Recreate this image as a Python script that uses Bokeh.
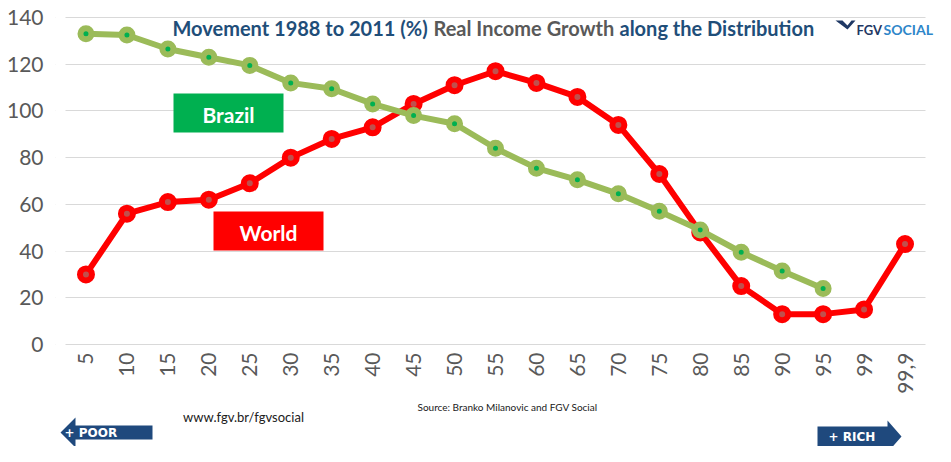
import math
from bokeh.plotting import figure
from bokeh.models import FactorRange, Range1d, FixedTicker, Label, BoxAnnotation, PolyAnnotation, ColumnDataSource
from bokeh.core.properties import value
from bokeh.embed import file_html
from bokeh.resources import INLINE

# ---------------- data ----------------
percentiles = ["5", "10", "15", "20", "25", "30", "35", "40", "45", "50", "55",
               "60", "65", "70", "75", "80", "85", "90", "95", "99", "99,9"]
world = [30, 56, 61, 62, 69, 80, 88, 93, 103, 111, 117, 112, 106, 94, 73, 48,
         25, 13, 13, 15, 43]
brazil_pct = percentiles[:19]
brazil = [133, 132.5, 126.5, 123, 119.5, 112, 109.5, 103, 98, 94.5, 84, 75.5,
          70.5, 64.5, 57, 49, 39.5, 31.5, 24]
y_ticks = [0, 20, 40, 60, 80, 100, 120, 140]

title_parts = ["Movement 1988 to 2011 (%)", "Real Income Growth", "along the Distribution"]

# ---------------- layout constants (figure pixels) ----------------
FONT = "Lato"
W, H = 935, 446
PLOT_L, PLOT_R = 65, 925        # span of the categories
PLOT_T, PLOT_B = 17, 344        # where 140 and 0 sit
PAD = 10                        # extra frame on both sides of the categories
YMAX = 140
CW = (PLOT_R - PLOT_L) / len(percentiles)
K = (PLOT_B - PLOT_T) / YMAX
BLUE = "#1F4E79"
GRAY = "#595959"
ARROW = "#1F497D"


def ux(px):
    return (px - PLOT_L) / CW


def vy(py):
    return (PLOT_B - py) / K


p = figure(x_range=FactorRange(*percentiles, range_padding=PAD / CW,
                               range_padding_units="absolute"),
           y_range=Range1d(-(H - PLOT_B) / K, YMAX + PLOT_T / K),
           frame_width=PLOT_R - PLOT_L + 2 * PAD, frame_height=H,
           min_border_left=PLOT_L - PAD, min_border_top=0,
           min_border_right=W - PLOT_R - PAD, min_border_bottom=0,
           x_axis_location=None, output_backend="svg", toolbar_location=None)
p.outline_line_color = None
p.background_fill_color = "white"
p.border_fill_color = "white"

p.xgrid.visible = False
p.ygrid.grid_line_color = "#D9D9D9"
p.ygrid.grid_line_width = 1

p.yaxis.ticker = FixedTicker(ticks=y_ticks)
p.yaxis.axis_line_color = None
p.yaxis.major_tick_line_color = None
p.yaxis.minor_tick_line_color = None
p.yaxis.major_tick_out = 0
p.yaxis.major_tick_in = 0
p.yaxis.major_label_text_font = FONT
p.yaxis.major_label_text_font_size = "21px"
p.yaxis.major_label_text_color = GRAY
p.yaxis.major_label_standoff = 12

# hide grid ends that fall outside the category span
p.add_layout(BoxAnnotation(right=ux(PLOT_L), bottom=vy(352), fill_color="white",
                           fill_alpha=1, line_color=None))
p.add_layout(BoxAnnotation(left=ux(PLOT_R), bottom=vy(352), fill_color="white",
                           fill_alpha=1, line_color=None))

# category labels under the zero line
p.text(x=percentiles, y=[vy(352)] * len(percentiles), text=percentiles, angle=math.pi / 2,
       text_align="right", text_baseline="middle", text_font=value(FONT),
       text_font_size=value("21px"), text_color=GRAY)

src_w = ColumnDataSource(dict(pct=percentiles, val=world))
src_b = ColumnDataSource(dict(pct=brazil_pct, val=brazil))

p.line("pct", "val", source=src_w, line_color="#FF0000", line_width=6, line_join="round")
p.scatter("pct", "val", source=src_w, size=12, fill_color="#C0504D",
          line_color="#FF0000", line_width=6)
p.line("pct", "val", source=src_b, line_color="#9BBB59", line_width=6, line_join="round")
p.scatter("pct", "val", source=src_b, size=11, fill_color="#00B050",
          line_color="#9BBB59", line_width=6)

# series tag boxes
for (x0, x1, y0, y1, col, txt) in [(173, 283, 93, 132, "#00B050", "Brazil"),
                                   (213, 323, 211, 250, "#FF0000", "World")]:
    p.add_layout(BoxAnnotation(left=ux(x0), right=ux(x1), top=vy(y0), bottom=vy(y1),
                               fill_color=col, fill_alpha=1, line_color=None))
    p.add_layout(Label(x=ux((x0 + x1) / 2), y=vy((y0 + y1) / 2 + 1), text=txt,
                       text_align="center", text_baseline="middle",
                       text_font=FONT, text_font_size="21px", text_font_style="bold",
                       text_color="white"))

# title
for txt, x0, col in zip(title_parts, [172, 433, 619], [BLUE, GRAY, BLUE]):
    p.add_layout(Label(x=ux(x0), y=vy(27), text=txt, text_align="left",
                       text_baseline="alphabetic", text_font=FONT,
                       text_font_size="20px", text_font_style="bold", text_color=col))

# logo
logo_x = [835, 842, 847, 851, 855, 847]
logo_y = [20, 20, 25, 20, 20, 29]
p.add_layout(PolyAnnotation(xs=[ux(v) for v in logo_x], ys=[vy(v) for v in logo_y],
                            fill_color="#1F3864", fill_alpha=1, line_color=None))
p.add_layout(Label(x=ux(856), y=vy(29), text="FGV", text_align="left",
                   text_baseline="alphabetic", text_font=FONT, text_font_size="13px",
                   text_font_style="bold", text_color="#1F3864"))
p.add_layout(Label(x=ux(883), y=vy(29), text="SOCIAL", text_align="left",
                   text_baseline="alphabetic", text_font=FONT, text_font_size="14px",
                   text_font_style="bold", text_color="#2E86C9"))

# ---------------- below the chart ----------------
left_arrow = [(60, 432), (75, 417), (75, 425), (152, 425), (152, 439), (75, 439), (75, 447)]
right_arrow = [(817, 426), (887, 426), (887, 420), (901, 436), (887, 452), (887, 447), (817, 447)]
for arr in (left_arrow, right_arrow):
    p.add_layout(PolyAnnotation(xs=[ux(a) for a, b in arr], ys=[vy(b) for a, b in arr],
                                fill_color=ARROW, fill_alpha=1, line_color=None))

for txt, x0, y0 in [("+ POOR", 64, 432), ("+ RICH", 828, 436)]:
    p.add_layout(Label(x=ux(x0), y=vy(y0), text=txt, text_align="left",
                       text_baseline="middle", text_font="DejaVu Sans", text_font_size="12px",
                       text_font_style="bold", text_color="white"))

p.add_layout(Label(x=ux(243), y=vy(416), text="www.fgv.br/fgvsocial", text_align="center",
                   text_baseline="middle", text_font=FONT, text_font_size="13px",
                   text_color="#202020"))
p.add_layout(Label(x=ux(417), y=vy(406), text="Source: Branko Milanovic and FGV Social",
                   text_align="left", text_baseline="middle", text_font=FONT,
                   text_font_size="10px", text_color="#202020"))

open("out.html", "w").write(file_html(p, INLINE))
